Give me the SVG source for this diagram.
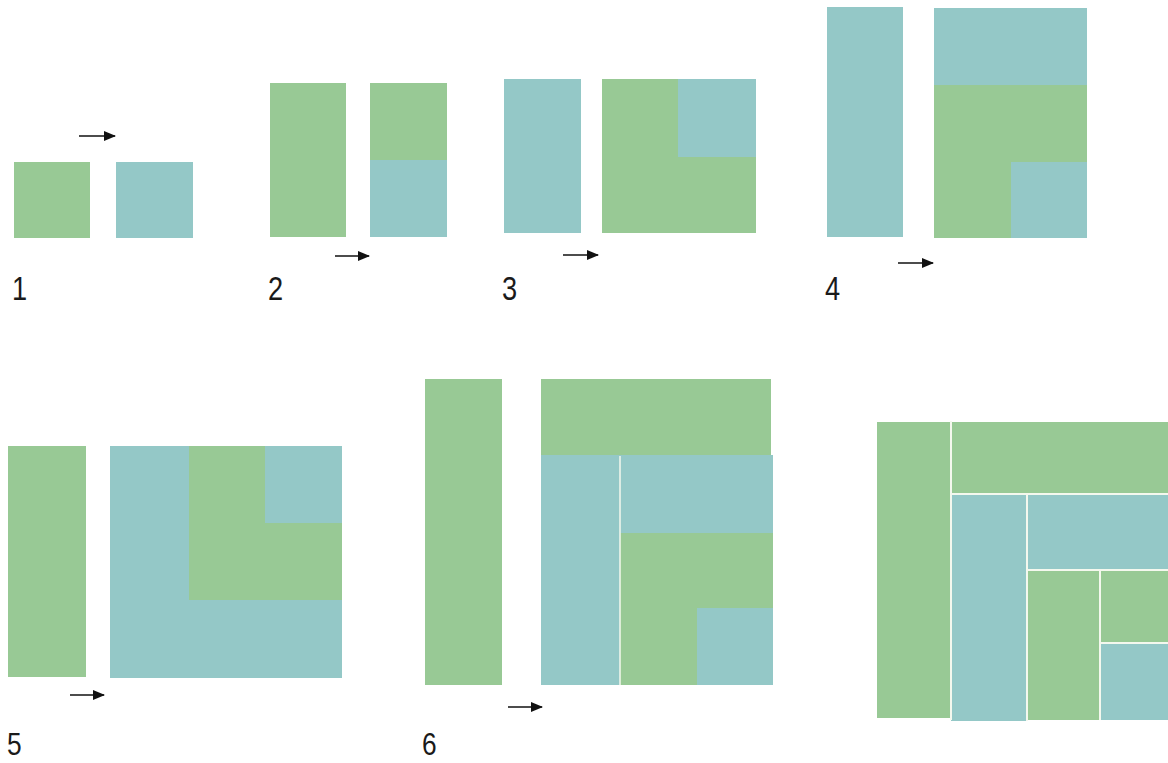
<svg xmlns="http://www.w3.org/2000/svg" width="1168" height="763" viewBox="0 0 1168 763">
<style>
.g{fill:#98c995}
.b{fill:#94c8c7}
.sep{stroke:#f4f8ee;stroke-width:2;fill:none}
.lbl{font-family:"Liberation Sans",Arial,sans-serif;font-size:34px;fill:#1a1a1a}
.lbl2{font-family:"Liberation Sans",Arial,sans-serif;font-size:31px;fill:#1a1a1a}
.arr{stroke:#111;stroke-width:1.6;fill:none}
</style>
<defs>
<marker id="ah" viewBox="0 0 12 10" refX="11" refY="5" markerWidth="12" markerHeight="10" markerUnits="userSpaceOnUse" orient="auto">
<path d="M0,0 L12,5 L0,10 Z" fill="#111"/>
</marker>
</defs>
<rect width="1168" height="763" fill="#fff"/>

<g id="step1">
<rect class="g" x="14" y="162" width="76" height="76"/>
<rect class="b" x="116" y="162" width="77" height="76"/>
<text class="lbl" transform="translate(12,300) scale(0.8,1)">1</text>
</g>

<g id="step2">
<rect class="g" x="270" y="83" width="76" height="154"/>
<rect class="g" x="370" y="83" width="77" height="77"/>
<rect class="b" x="370" y="160" width="77" height="77"/>
<text class="lbl" transform="translate(268,300) scale(0.8,1)">2</text>
</g>

<g id="step3">
<rect class="b" x="504" y="79" width="77" height="154"/>
<rect class="g" x="602" y="79" width="154" height="154"/>
<rect class="b" x="678" y="79" width="78" height="78"/>
<text class="lbl" transform="translate(502,300) scale(0.8,1)">3</text>
</g>

<g id="step4">
<rect class="b" x="827" y="7" width="76" height="230"/>
<rect class="b" x="934" y="8" width="153" height="77"/>
<rect class="g" x="934" y="85" width="153" height="153"/>
<rect class="b" x="1011" y="162" width="76" height="76"/>
<text class="lbl" transform="translate(825,300) scale(0.8,1)">4</text>
</g>

<g id="step5">
<rect class="g" x="8" y="446" width="78" height="231"/>
<rect class="b" x="110" y="446" width="232" height="232"/>
<rect class="g" x="189" y="446" width="76" height="78"/>
<rect class="b" x="265" y="446" width="77" height="77"/>
<rect class="g" x="189" y="523" width="153" height="77"/>
<text class="lbl2" transform="translate(7,755) scale(0.85,1)">5</text>
</g>

<g id="step6">
<rect class="g" x="425" y="379" width="77" height="306"/>
<rect class="g" x="541" y="379" width="230" height="76"/>
<rect class="b" x="541" y="455" width="79" height="230"/>
<rect class="b" x="620" y="455" width="153" height="78"/>
<rect class="g" x="620" y="533" width="153" height="152"/>
<rect class="b" x="697" y="608" width="76" height="77"/>
<line class="sep" x1="620" y1="456" x2="620" y2="685" style="stroke-width:1.5"/>
<text class="lbl2" transform="translate(422,755) scale(0.85,1)">6</text>
</g>

<g id="step7">
<rect class="g" x="877" y="422" width="74" height="296"/>
<rect class="g" x="951" y="422" width="217" height="72"/>
<rect class="b" x="951" y="494" width="76" height="227"/>
<rect class="b" x="1027" y="494" width="141" height="76"/>
<rect class="g" x="1027" y="570" width="141" height="150"/>
<rect class="b" x="1100" y="643" width="68" height="77"/>
<path class="sep" d="M951,421 V720 M951,494 H1168 M1027,494 V721 M1027,570 H1168 M1100,570 V720 M1100,643 H1168"/>
</g>

<g id="connectors">
<line class="arr" x1="79" y1="136" x2="115" y2="136" marker-end="url(#ah)"/>
<line class="arr" x1="335" y1="256" x2="369" y2="256" marker-end="url(#ah)"/>
<line class="arr" x1="563" y1="255" x2="598" y2="255" marker-end="url(#ah)"/>
<line class="arr" x1="898" y1="263" x2="933" y2="263" marker-end="url(#ah)"/>
<line class="arr" x1="70" y1="695" x2="104" y2="695" marker-end="url(#ah)"/>
<line class="arr" x1="508" y1="707" x2="542" y2="707" marker-end="url(#ah)"/>
</g>
</svg>
